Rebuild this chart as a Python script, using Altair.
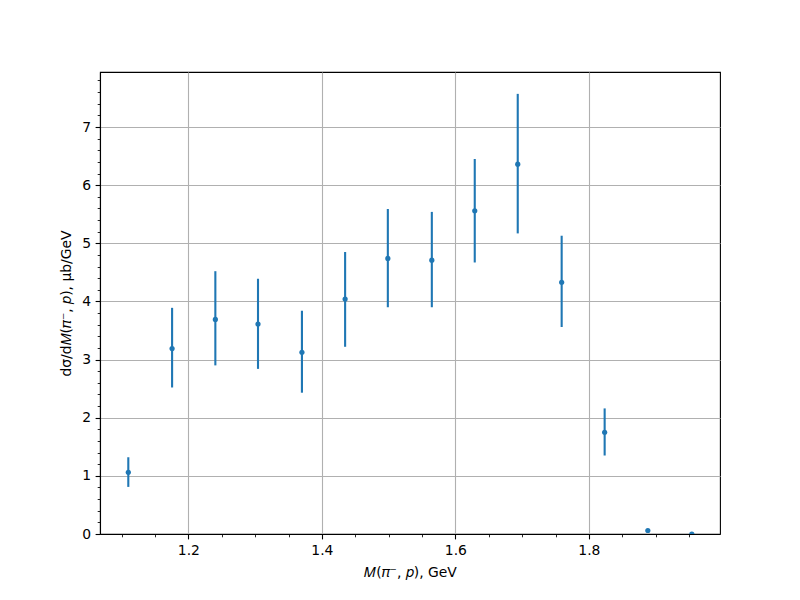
import altair as alt
import pandas as pd

# Data
mass = [1.110, 1.1756, 1.2404, 1.3043, 1.3701, 1.4348, 1.4988, 1.5647,
        1.629, 1.6934, 1.7592, 1.8236, 1.8883, 1.9542]
xsec = [1.06, 3.19, 3.69, 3.61, 3.125, 4.04, 4.74, 4.71,
        5.56, 6.36, 4.33, 1.75, 0.06, 0.0]
err_lo = [0.81, 2.52, 2.90, 2.84, 2.43, 3.22, 3.90, 3.90,
          4.67, 5.17, 3.56, 1.35, 0.06, 0.0]
err_hi = [1.32, 3.89, 4.52, 4.39, 3.84, 4.85, 5.59, 5.54,
          6.45, 7.57, 5.13, 2.16, 0.06, 0.0]

x_major = [1.2, 1.4, 1.6, 1.8]
y_major = [0, 1, 2, 3, 4, 5, 6, 7]

df = pd.DataFrame({"m": mass, "y": xsec, "lo": err_lo, "hi": err_hi})

x_ticks = [round(1.10 + 0.05 * i, 2) for i in range(18)]
y_ticks = [round(0.2 * i, 1) for i in range(40)]

XMAJ = "abs(datum.value*5 - round(datum.value*5)) < 1e-6"
YMAJ = "abs(datum.value - round(datum.value)) < 1e-6"

FONT = "DejaVu Sans"
BLUE = "#1f77b4"

xscale = alt.Scale(domain=[1.0676, 1.9964], nice=False, zero=False)
yscale = alt.Scale(domain=[0, 7.946], nice=False, zero=False)

xaxis = alt.Axis(
    title="𝑀(𝜋⁻, 𝑝), GeV",
    values=x_ticks,
    tickCount=200,
    labelExpr=f"{XMAJ} ? format(datum.value, '.1f') : ''",
    tickSize={"condition": {"test": XMAJ, "value": 4.9}, "value": 2.8},
    tickWidth={"condition": {"test": XMAJ, "value": 1.1}, "value": 0.85},
    gridOpacity={"condition": {"test": XMAJ, "value": 1}, "value": 0},
    labelOverlap=False,
    labelFlush=False,
    titlePadding=8,
)
yaxis = alt.Axis(
    title="dσ/d𝑀(𝜋⁻, 𝑝), μb/GeV",
    values=y_ticks,
    tickCount=200,
    labelExpr=f"{YMAJ} ? format(datum.value, 'd') : ''",
    tickSize={"condition": {"test": YMAJ, "value": 4.9}, "value": 2.8},
    tickWidth={"condition": {"test": YMAJ, "value": 1.1}, "value": 0.85},
    gridOpacity={"condition": {"test": YMAJ, "value": 1}, "value": 0},
    labelOverlap=False,
    labelFlush=False,
    titlePadding=8,
)

base = alt.Chart(df)

bars = base.mark_rule(color=BLUE, strokeWidth=2.1, clip=True).encode(
    x=alt.X("m:Q", scale=xscale, axis=xaxis),
    y=alt.Y("lo:Q", scale=yscale, axis=yaxis),
    y2="hi:Q",
)

points = base.mark_circle(color=BLUE, size=27, opacity=1, clip=True).encode(
    x=alt.X("m:Q", scale=xscale, axis=xaxis),
    y=alt.Y("y:Q", scale=yscale, axis=yaxis),
)

chart = (
    alt.layer(bars, points)
    .properties(
        width=620,
        height=462,
        autosize=alt.AutoSizeParams(type="none"),
        padding={"left": 92, "top": 64, "right": 72, "bottom": 58},
    )
    .configure_view(stroke="black", strokeWidth=1.1)
    .configure_axis(
        domainColor="black",
        domainWidth=1.1,
        tickColor="black",
        gridColor="#b0b0b0",
        gridWidth=1.1,
        labelFont=FONT,
        labelFontSize=13.9,
        labelColor="black",
        labelPadding=4.5,
        titleFont=FONT,
        titleFontSize=13.9,
        titleFontWeight="normal",
        titleColor="black",
    )
)

chart.save("out.html", embed_options={"renderer": "svg", "actions": False})
